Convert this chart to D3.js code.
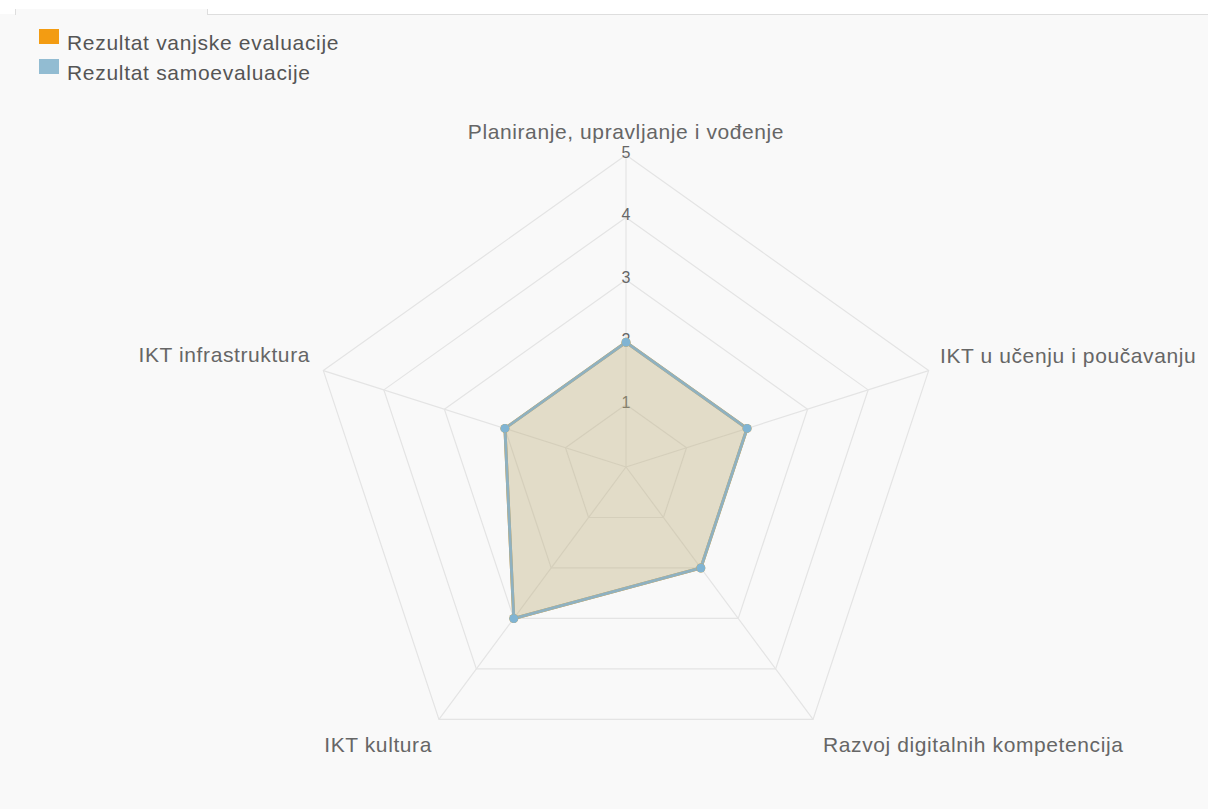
<!DOCTYPE html>
<html>
<head>
<meta charset="utf-8">
<script src="https://cdn.jsdelivr.net/npm/d3@7"></script>
<style>
  body { margin: 0; background: #fff; }
  svg { display: block; font-family: "Liberation Sans", Arial, sans-serif; }
</style>
</head>
<body>
<div id="chart"></div>
<script>
const axes = [
  "Planiranje, upravljanje i vođenje",
  "IKT u učenju i poučavanju",
  "Razvoj digitalnih kompetencija",
  "IKT kultura",
  "IKT infrastruktura"
];
const vanjske = [2, 2, 2, 3, 2];
const samo = [2, 2, 2, 3, 2];
const ticks = [1, 2, 3, 4, 5];
const seriesNames = ["Rezultat vanjske evaluacije", "Rezultat samoevaluacije"];

const width = 1208, height = 809;
const cx = 626, cy = 467;
const sx = 1.02; // picture is a bit wider than tall

const svg = d3.select("#chart").append("svg")
  .attr("width", width)
  .attr("height", height);

// page background + tab strip
svg.append("rect").attr("x", 0).attr("y", 14).attr("width", width).attr("height", height - 14).attr("fill", "#f9f9f9");
svg.append("rect").attr("x", 15).attr("y", 9).attr("width", 192).attr("height", 6).attr("fill", "#f9f9f9");
svg.append("line").attr("x1", 207).attr("x2", width).attr("y1", 14.5).attr("y2", 14.5).attr("stroke", "#dedede");
svg.append("line").attr("x1", 15.5).attr("x2", 15.5).attr("y1", 9).attr("y2", 15).attr("stroke", "#dedede");
svg.append("line").attr("x1", 207.5).attr("x2", 207.5).attr("y1", 9).attr("y2", 15).attr("stroke", "#dedede");

const r = d3.scaleLinear().domain([0, 5]).range([0, 312]);
const angle = d3.scalePoint().domain(d3.range(axes.length)).range([0, 2 * Math.PI * (axes.length - 1) / axes.length]);

function pt(i, v) {
  const a = angle(i);
  return [cx + Math.sin(a) * r(v) * sx, cy - Math.cos(a) * r(v)];
}

const g = svg.append("g");

// grid polygons
g.selectAll("polygon.grid")
  .data(ticks)
  .enter().append("polygon")
  .attr("class", "grid")
  .attr("points", t => axes.map((_, i) => pt(i, t).join(",")).join(" "))
  .attr("fill", "none")
  .attr("stroke", "#e4e4e4")
  .attr("stroke-width", 1.2);

// angle lines
g.selectAll("line.spoke")
  .data(axes)
  .enter().append("line")
  .attr("x1", cx).attr("y1", cy)
  .attr("x2", (d, i) => pt(i, 5)[0])
  .attr("y2", (d, i) => pt(i, 5)[1])
  .attr("stroke", "#e4e4e4")
  .attr("stroke-width", 1.2);

// tick labels
g.selectAll("text.tick")
  .data(ticks)
  .enter().append("text")
  .attr("x", cx)
  .attr("y", t => cy - r(t) + 3)
  .attr("text-anchor", "middle")
  .attr("font-size", 16)
  .attr("fill", "#666")
  .text(t => t);

// datasets
const line = d3.line();
const sets = [
  { vals: vanjske, fill: "rgba(245,158,20,0.22)", stroke: "#f39c12", point: "#f39c12" },
  { vals: samo, fill: "rgba(140,185,210,0.2)", stroke: "#8fb1c0", point: "#80b4d3" }
];
sets.forEach(s => {
  const pts = s.vals.map((v, i) => pt(i, v));
  g.append("path")
    .attr("d", line(pts) + "Z")
    .attr("fill", s.fill)
    .attr("stroke", s.stroke)
    .attr("stroke-width", 3)
    .attr("stroke-linejoin", "round");
});
sets.forEach(s => {
  g.selectAll(null)
    .data(s.vals)
    .enter().append("circle")
    .attr("cx", (v, i) => pt(i, v)[0])
    .attr("cy", (v, i) => pt(i, v)[1])
    .attr("r", 4.5)
    .attr("fill", s.point);
});

// axis labels
const labelPos = [
  { x: 626, y: 139, anchor: "middle" },
  { x: 940, y: 363, anchor: "start" },
  { x: 823, y: 752, anchor: "start" },
  { x: 432, y: 752, anchor: "end" },
  { x: 310, y: 362, anchor: "end" }
];
g.selectAll("text.axis")
  .data(axes)
  .enter().append("text")
  .attr("x", (d, i) => labelPos[i].x)
  .attr("y", (d, i) => labelPos[i].y)
  .attr("text-anchor", (d, i) => labelPos[i].anchor)
  .attr("font-size", 21)
  .attr("letter-spacing", 0.6)
  .attr("fill", "#666")
  .text(d => d);

// legend
const legend = svg.append("g");
const legColors = ["#f39c12", "#92bcd2"];
legend.selectAll("rect")
  .data(seriesNames)
  .enter().append("rect")
  .attr("x", 39)
  .attr("y", (d, i) => 29 + i * 30)
  .attr("width", 20)
  .attr("height", 15)
  .attr("fill", (d, i) => legColors[i]);
legend.selectAll("text")
  .data(seriesNames)
  .enter().append("text")
  .attr("x", 67)
  .attr("y", (d, i) => 50 + i * 30)
  .attr("font-size", 21)
  .attr("letter-spacing", 0.7)
  .attr("fill", "#555")
  .text(d => d);
</script>
</body>
</html>
